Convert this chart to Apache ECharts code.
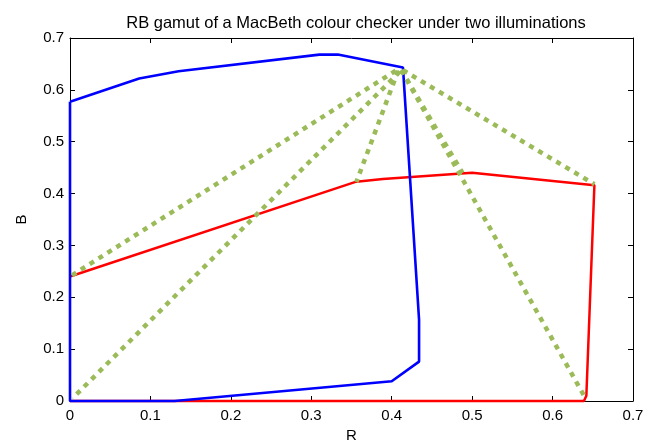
<!DOCTYPE html>
<html>
<head>
<meta charset="utf-8">
<script src="https://cdn.jsdelivr.net/npm/echarts@6/dist/echarts.min.js"></script>
<style>
  html, body { margin: 0; padding: 0; background: #fff; }
  #chart { width: 657px; height: 448px; }
</style>
</head>
<body>
<div id="chart"></div>
<script>
// Gamut outline under the first illumination (R, B), closed polygon
const gamutBlue = [
  [0.000, 0.577], [0.086, 0.622], [0.135, 0.636], [0.310, 0.668],
  [0.333, 0.668], [0.414, 0.643], [0.434, 0.157], [0.434, 0.076],
  [0.400, 0.038], [0.130, 0.000], [0.000, 0.000], [0.000, 0.577]
];

// Gamut outline under the second illumination (R, B); its left edge lies on the R=0 axis under the blue outline
const gamutRed = [
  [0.000, 0.240], [0.356, 0.423], [0.389, 0.428], [0.500, 0.440],
  [0.652, 0.416], [0.642, 0.010], [0.639, 0.000], [0.000, 0.000]
];

// Mapping lines between hull vertices (start, end)
const mapLines = [
  [[0.405, 0.637], [0.000, 0.240]],
  [[0.410, 0.635], [0.003, 0.005]],
  [[0.408, 0.637], [0.356, 0.422]],
  [[0.412, 0.638], [0.488, 0.440]],
  [[0.412, 0.638], [0.641, 0.005]],
  [[0.414, 0.638], [0.652, 0.418]]
];

const xTicks = [0, 0.1, 0.2, 0.3, 0.4, 0.5, 0.6, 0.7];
const yTicks = [0, 0.1, 0.2, 0.3, 0.4, 0.5, 0.6, 0.7];

const FONT = 'Liberation Sans, Arial, Helvetica, sans-serif';
const fmt = v => (Math.abs(v) < 1e-9 ? '0' : String(Math.round(v * 10) / 10));

const axisCommon = {
  type: 'value',
  min: 0,
  max: 0.7,
  interval: 0.1,
  axisLine: { show: true, onZero: false, lineStyle: { color: '#000', width: 1 } },
  axisTick: { show: true, inside: true, length: 5, lineStyle: { color: '#000', width: 1 } },
  splitLine: { show: false }
};

const chart = echarts.init(document.getElementById('chart'), null, { renderer: 'canvas' });

const series = [
  {
    name: 'illum2', type: 'line', data: gamutRed, showSymbol: false, symbol: 'none',
    clip: false, lineStyle: { color: '#ff0000', width: 2.5 }, z: 2, animation: false
  },
  {
    name: 'illum1', type: 'line', data: gamutBlue, showSymbol: false, symbol: 'none',
    clip: false, lineStyle: { color: '#0000ff', width: 2.6 }, z: 3, animation: false
  }
];
mapLines.forEach((seg, i) => {
  series.push({
    name: 'map' + i, type: 'line', data: seg, showSymbol: false, symbol: 'none',
    clip: false,
    lineStyle: { color: '#9bbb59', width: 4.5, type: [5, 5.5], cap: 'butt' },
    z: 4, animation: false
  });
});

chart.setOption({
  backgroundColor: '#fff',
  animation: false,
  title: {
    text: 'RB gamut of a MacBeth colour checker under two illuminations',
    left: 351, top: 10, textAlign: 'center',
    textStyle: { fontFamily: FONT, fontSize: 16.5, fontWeight: 'normal', color: '#000' }
  },
  grid: { left: 70, right: 24, top: 38, bottom: 42, containLabel: false },
  xAxis: [
    Object.assign({}, axisCommon, {
      position: 'bottom',
      name: 'R', nameLocation: 'middle', nameGap: 27,
      nameTextStyle: { fontFamily: FONT, fontSize: 15, color: '#000' },
      axisLabel: {
        fontFamily: FONT, fontSize: 15, color: '#000', margin: 7,
        customValues: xTicks, formatter: fmt
      }
    }),
    Object.assign({}, axisCommon, { position: 'top', axisLabel: { show: false } })
  ],
  yAxis: [
    Object.assign({}, axisCommon, {
      position: 'left',
      name: 'B', nameLocation: 'middle', nameGap: 41, nameRotate: 90,
      nameTextStyle: { fontFamily: FONT, fontSize: 15, color: '#000' },
      axisLabel: {
        fontFamily: FONT, fontSize: 15, color: '#000', margin: 6,
        customValues: yTicks, formatter: fmt
      }
    }),
    Object.assign({}, axisCommon, { position: 'right', axisLabel: { show: false } })
  ],
  series: series
});
</script>
</body>
</html>
